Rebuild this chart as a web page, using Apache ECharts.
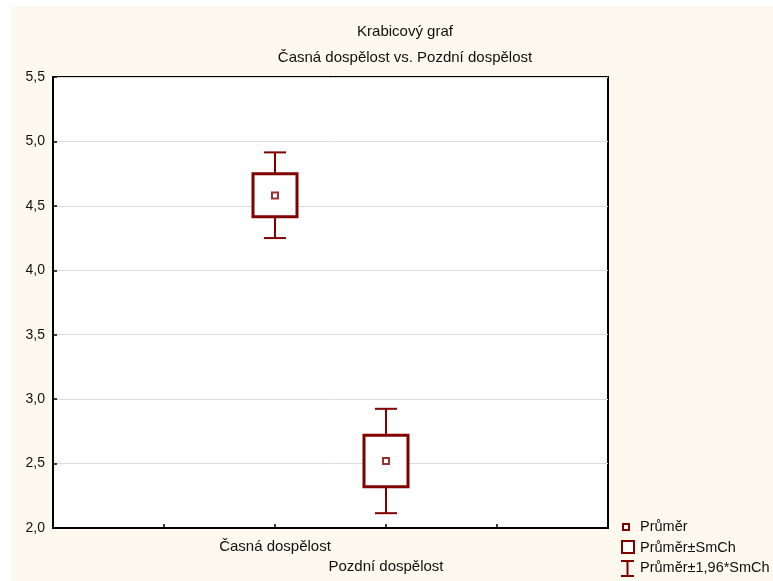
<!DOCTYPE html>
<html>
<head>
<meta charset="utf-8">
<script src="https://cdn.jsdelivr.net/npm/echarts@6/dist/echarts.min.js"></script>
<style>
html,body{margin:0;padding:0;background:#fff;width:773px;height:581px;overflow:hidden;}
#bg{position:absolute;left:11px;top:6px;width:762px;height:575px;background:#fef9ef;}
#chart{position:absolute;left:0;top:0;width:773px;height:581px;}
</style>
</head>
<body>
<div id="bg"></div>
<div id="chart"></div>
<script>
// Data
const categories = ['Časná dospělost', 'Pozdní dospělost'];
const catPositions = [2, 3];
const means = [4.58, 2.52];
const boxLow = [4.415, 2.32];
const boxHigh = [4.75, 2.72];
const whiskerLow = [4.25, 2.115];
const whiskerHigh = [4.915, 2.925];

const RED = '#800000';
const FONT = 'Liberation Sans, Arial, sans-serif';

const boxData = categories.map((c, i) => [catPositions[i], boxLow[i], boxHigh[i]]);
const whiskerData = categories.map((c, i) => [catPositions[i], whiskerLow[i], whiskerHigh[i]]);
const meanData = categories.map((c, i) => [catPositions[i], means[i]]);

const chart = echarts.init(document.getElementById('chart'), null, {renderer: 'canvas'});

const option = {
  backgroundColor: 'transparent',
  animation: false,
  title: [
    {text: 'Krabicový graf', left: 400, top: 19, textAlign: 'center',
     textStyle: {fontFamily: FONT, fontSize: 15, fontWeight: 'normal', color: '#111'}},
    {text: 'Časná dospělost vs. Pozdní dospělost', left: 400, top: 45, textAlign: 'center',
     textStyle: {fontFamily: FONT, fontSize: 15, fontWeight: 'normal', color: '#111'}}
  ],
  grid: {
    left: 53, top: 77, right: 165, bottom: 53,
    show: true, backgroundColor: '#ffffff', borderColor: '#000', borderWidth: 2
  },
  xAxis: {
    type: 'value', min: 0, max: 5, interval: 1,
    axisLine: {show: true, lineStyle: {color: '#000', width: 2}},
    axisTick: {show: true, inside: true, length: 4, lineStyle: {color: '#000', width: 1.5}},
    splitLine: {show: false},
    axisLabel: {
      fontFamily: FONT, fontSize: 15, color: '#111', margin: 9, lineHeight: 20,
      verticalAlign: 'top',
      formatter: function (v) {
        const idx = catPositions.indexOf(v);
        if (idx < 0) return '';
        return (idx % 2 === 1 ? '\n' : '') + categories[idx];
      }
    }
  },
  yAxis: {
    type: 'value', min: 2, max: 5.5, interval: 0.5,
    axisLine: {show: true, lineStyle: {color: '#000', width: 2}},
    axisTick: {show: true, inside: true, length: 4, lineStyle: {color: '#000', width: 1.5}},
    splitLine: {show: true, lineStyle: {color: '#dcdcdc', width: 1}},
    axisLabel: {
      fontFamily: FONT, fontSize: 14, color: '#111', margin: 8,
      formatter: function (v) { return v.toFixed(1).replace('.', ','); }
    }
  },
  series: [
    {
      name: 'Průměr±1,96*SmCh', type: 'custom', data: whiskerData, z: 2,
      renderItem: function (params, api) {
        const x = api.value(0);
        const lo = api.coord([x, api.value(1)]);
        const hi = api.coord([x, api.value(2)]);
        const half = 11;
        const style = {stroke: RED, lineWidth: 2, fill: null};
        return {type: 'group', children: [
          {type: 'line', shape: {x1: lo[0], y1: lo[1], x2: hi[0], y2: hi[1]}, style: style},
          {type: 'line', shape: {x1: lo[0] - half, y1: lo[1], x2: lo[0] + half, y2: lo[1]}, style: style},
          {type: 'line', shape: {x1: hi[0] - half, y1: hi[1], x2: hi[0] + half, y2: hi[1]}, style: style}
        ]};
      }
    },
    {
      name: 'Průměr±SmCh', type: 'custom', data: boxData, z: 3,
      renderItem: function (params, api) {
        const x = api.value(0);
        const lo = api.coord([x, api.value(1)]);
        const hi = api.coord([x, api.value(2)]);
        const half = 22;
        return {type: 'rect',
          shape: {x: lo[0] - half, y: hi[1], width: half * 2, height: lo[1] - hi[1]},
          style: {fill: '#fff', stroke: RED, lineWidth: 3}};
      }
    },
    {
      name: 'Průměr', type: 'scatter', data: meanData, z: 4,
      symbol: 'rect', symbolSize: 6,
      itemStyle: {color: '#fff', borderColor: RED, borderWidth: 2}
    }
  ],
  graphic: [
    {type: 'rect', shape: {x: 623, y: 524, width: 6, height: 6},
     style: {fill: '#fff', stroke: RED, lineWidth: 2}},
    {type: 'text', x: 640, y: 527, style: {text: 'Průměr', fontFamily: FONT, fontSize: 14.5, fill: '#111', verticalAlign: 'middle'}},
    {type: 'rect', shape: {x: 622, y: 541, width: 12, height: 12},
     style: {fill: '#fff', stroke: RED, lineWidth: 2}},
    {type: 'text', x: 640, y: 548, style: {text: 'Průměr±SmCh', fontFamily: FONT, fontSize: 14.5, fill: '#111', verticalAlign: 'middle'}},
    {type: 'line', shape: {x1: 627.5, y1: 561, x2: 627.5, y2: 576}, style: {stroke: RED, lineWidth: 2}},
    {type: 'line', shape: {x1: 621, y1: 561, x2: 634, y2: 561}, style: {stroke: RED, lineWidth: 2}},
    {type: 'line', shape: {x1: 621, y1: 576, x2: 634, y2: 576}, style: {stroke: RED, lineWidth: 2}},
    {type: 'text', x: 640, y: 568, style: {text: 'Průměr±1,96*SmCh', fontFamily: FONT, fontSize: 14.5, fill: '#111', verticalAlign: 'middle'}}
  ]
};
chart.setOption(option);
</script>
</body>
</html>
